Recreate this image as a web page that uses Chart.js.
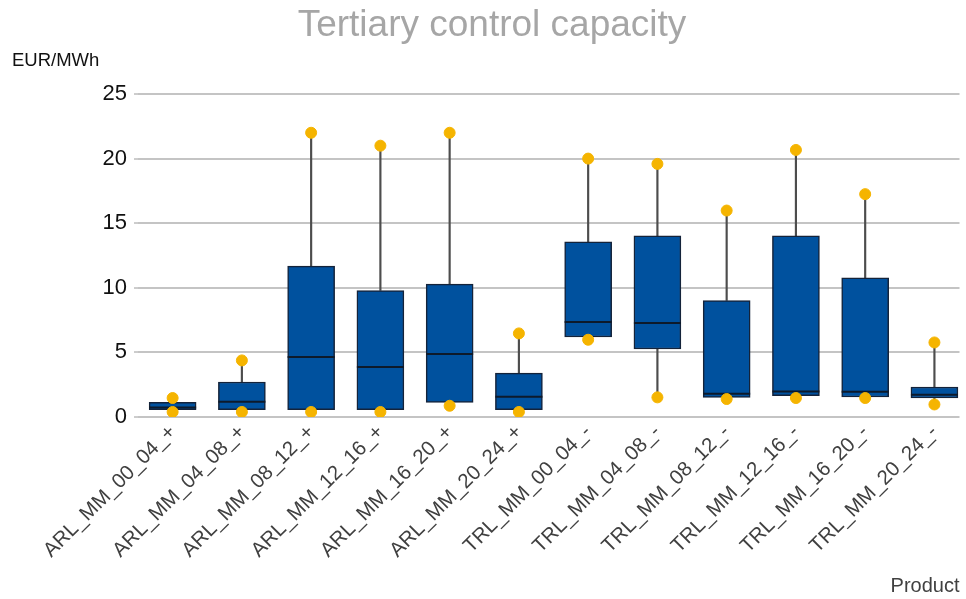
<!DOCTYPE html>
<html>
<head>
<meta charset="utf-8">
<script src="https://cdn.jsdelivr.net/npm/chart.js@4.4.1/dist/chart.umd.min.js"></script>
<style>
  html, body { margin: 0; padding: 0; background: #fff; overflow: hidden; }
  #wrap { width: 966px; height: 599px; position: relative; }
</style>
</head>
<body>
<div id="wrap"><canvas id="chart"></canvas></div>
<script>
const categories = [
  'ARL_MM_00_04_+', 'ARL_MM_04_08_+', 'ARL_MM_08_12_+', 'ARL_MM_12_16_+',
  'ARL_MM_16_20_+', 'ARL_MM_20_24_+', 'TRL_MM_00_04_-', 'TRL_MM_04_08_-',
  'TRL_MM_08_12_-', 'TRL_MM_12_16_-', 'TRL_MM_16_20_-', 'TRL_MM_20_24_-'
]
const minValues    = [0.39, 0.39, 0.39, 0.39, 0.87, 0.39, 5.98, 1.52, 1.39, 1.47, 1.47, 0.97]
const q1Values     = [0.56, 0.56, 0.56, 0.56, 1.13, 0.56, 6.19, 5.26, 1.52, 1.65, 1.55, 1.47]
const medianValues = [0.74, 1.18, 4.64, 3.87, 4.87, 1.57, 7.35, 7.27, 1.80, 1.98, 1.96, 1.72]
const q3Values     = [1.13, 2.71, 11.68, 9.79, 10.28, 3.40, 13.56, 14.02, 9.02, 14.02, 10.77, 2.32]
const maxValues    = [1.47, 4.38, 22.0, 21.0, 22.0, 6.47, 20.0, 19.59, 15.98, 20.67, 17.25, 5.77]
const yTicks = [0, 5, 10, 15, 20, 25]

const BOX_WIDTH = 47

const whiskers = []
categories.forEach((c, i) => {
  whiskers.push({ x: i, y: [q3Values[i], maxValues[i]] })
  whiskers.push({ x: i, y: [minValues[i], q1Values[i]] })
})
const boxes = categories.map((c, i) => ({ x: i, y: [q1Values[i], q3Values[i]] }))
const extremes = []
categories.forEach((c, i) => {
  extremes.push({ x: i, y: maxValues[i] })
  extremes.push({ x: i, y: minValues[i] })
})

// median lines drawn right after the boxes, before the dots
const medianPlugin = {
  id: 'medians',
  afterDatasetDraw(chart, args) {
    if (args.index !== 1) return
    const { ctx, scales: { x, y } } = chart
    ctx.save()
    ctx.strokeStyle = '#0d1a2b'
    ctx.lineWidth = 2
    medianValues.forEach((m, i) => {
      const px = x.getPixelForValue(i)
      const py = y.getPixelForValue(m)
      ctx.beginPath()
      ctx.moveTo(px - BOX_WIDTH / 2, py)
      ctx.lineTo(px + BOX_WIDTH / 2, py)
      ctx.stroke()
    })
    ctx.restore()
  }
}

const textPlugin = {
  id: 'texts',
  afterDraw(chart) {
    const ctx = chart.ctx
    ctx.save()
    ctx.fillStyle = '#a6a6a6'
    ctx.font = '37px "Liberation Sans", Arial, sans-serif'
    ctx.textAlign = 'center'
    ctx.textBaseline = 'middle'
    ctx.fillText('Tertiary control capacity', 492, 26)
    ctx.fillStyle = '#111'
    ctx.font = '18.5px "Liberation Sans", Arial, sans-serif'
    ctx.textAlign = 'left'
    ctx.fillText('EUR/MWh', 12, 61)
    ctx.restore()
  }
}

new Chart(document.getElementById('chart'), {
  type: 'bar',
  data: {
    datasets: [
      {
        type: 'scatter',
        data: extremes,
        backgroundColor: '#f5b400',
        borderColor: '#f5b400',
        pointRadius: 5.5,
        pointHoverRadius: 5.5,
        order: 0
      },
      {
        data: boxes,
        backgroundColor: '#00519e',
        borderColor: '#14233a',
        borderWidth: 1.5,
        borderSkipped: false,
        barThickness: BOX_WIDTH,
        grouped: false,
        order: 1
      },
      {
        data: whiskers,
        backgroundColor: '#4d4d4d',
        borderWidth: 0,
        barThickness: 1.5,
        grouped: false,
        order: 2
      }
    ]
  },
  options: {
    responsive: true,
    maintainAspectRatio: false,
    animation: false,
    layout: { padding: { top: 94, left: 0, right: 0, bottom: 0 } },
    plugins: {
      legend: { display: false },
      tooltip: { enabled: false }
    },
    scales: {
      x: {
        type: 'linear',
        offset: false,
        min: -0.5,
        max: 11.362,
        grid: { display: false },
        border: { display: false },
        afterBuildTicks: (scale) => {
          scale.ticks = categories.map((c, i) => ({ value: i }))
        },
        afterFit: (scale) => { scale.height = 182 },
        ticks: {
          autoSkip: false,
          minRotation: 45,
          maxRotation: 45,
          padding: -5,
          color: '#404040',
          font: { family: '"Liberation Sans", Arial, sans-serif', size: 20.5 },
          callback: (value) => categories[value]
        },
        title: {
          display: true,
          text: 'Product',
          align: 'end',
          color: '#404040',
          font: { family: '"Liberation Sans", Arial, sans-serif', size: 20 },
          padding: { top: 0, bottom: 1 }
        }
      },
      y: {
        min: 0,
        max: 25,
        afterBuildTicks: (scale) => {
          scale.ticks = yTicks.map(v => ({ value: v }))
        },
        afterFit: (scale) => { scale.width = 138 },
        border: { display: false },
        grid: {
          color: '#c4c4c4',
          lineWidth: 2,
          tickLength: 4,
          tickColor: '#9a9a9a',
          tickWidth: 1
        },
        ticks: {
          padding: 7,
          color: '#111',
          font: { family: '"Liberation Sans", Arial, sans-serif', size: 22 }
        }
      }
    }
  },
  plugins: [medianPlugin, textPlugin]
})
</script>
</body>
</html>
